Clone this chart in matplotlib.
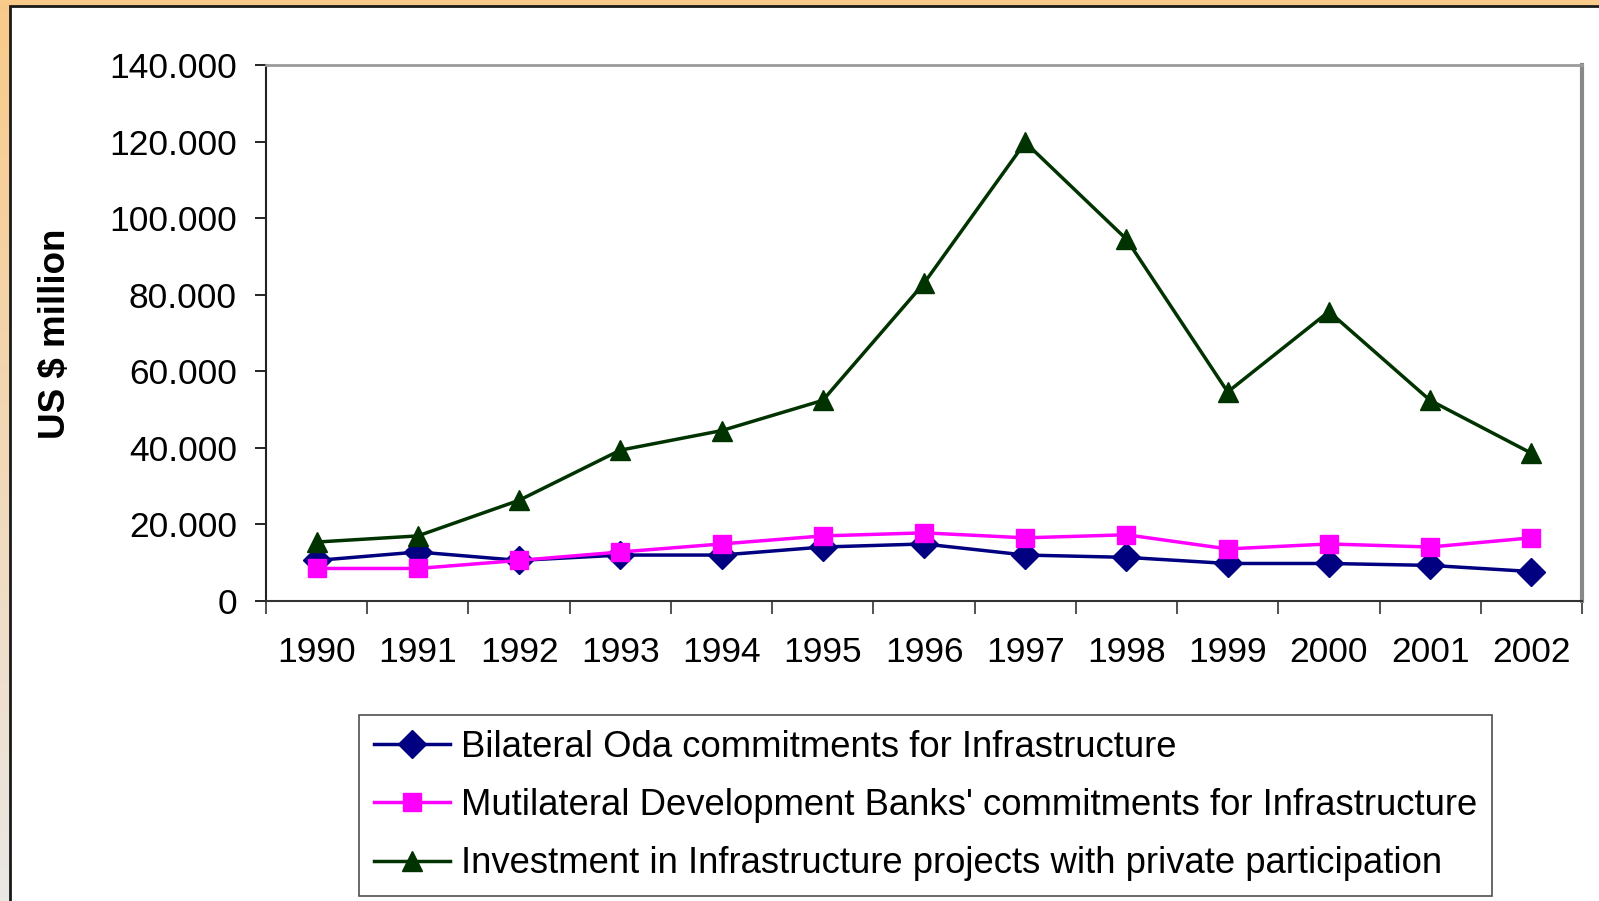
import numpy as np
import matplotlib
matplotlib.use("Agg")
import matplotlib.pyplot as plt
from matplotlib.patches import Rectangle
from matplotlib.ticker import FuncFormatter, FixedLocator

plt.rcParams['font.family'] = ['Liberation Sans', 'DejaVu Sans']

# data (US $ million)
years = ['1990', '1991', '1992', '1993', '1994', '1995', '1996',
         '1997', '1998', '1999', '2000', '2001', '2002']
bilateral_oda = [10600, 12800, 10600, 12000, 12000, 14100, 14900,
                 12000, 11400, 9800, 9800, 9300, 7700]
multilateral_banks = [8500, 8500, 10600, 12800, 14900, 17000, 17800,
                      16500, 17300, 13600, 14900, 14100, 16500]
private_investment = [15400, 17000, 26300, 39400, 44500, 52400, 83000,
                      119800, 94500, 54600, 75600, 52400, 38600]

labels = ["Bilateral Oda commitments for Infrastructure",
          "Mutilateral Development Banks' commitments for Infrastructure",
          "Investment in Infrastructure projects with private participation"]

W, H = 1599, 901
fig = plt.figure(figsize=(W / 100, H / 100), dpi=100)

# orange frame behind a white panel
bg = fig.add_axes([0, 0, 1, 1], zorder=-10)
grad = np.linspace(0, 1, 256).reshape(-1, 1)
top = np.array([249, 202, 138]) / 255
bottom = np.array([234, 231, 228]) / 255
img = top[None, None, :] * (1 - grad[:, :, None]) + bottom[None, None, :] * grad[:, :, None]
bg.imshow(img, aspect='auto', extent=[0, 1, 0, 1])
bg.set_xlim(0, 1)
bg.set_ylim(0, 1)
bg.axis('off')
bg.add_patch(Rectangle((10 / W, -0.05), 1.1, 1.05 - 6 / H, facecolor='white',
                       edgecolor='#1a1a1a', linewidth=2))

ax = fig.add_axes([266 / W, 1 - 601 / H, 1316 / W, (601 - 65) / H])
ax.set_facecolor('white')
x = np.arange(len(years))

ax.plot(x, bilateral_oda, color='#000080', linewidth=2.5, marker='D',
        markersize=14, label=labels[0], zorder=3)
ax.plot(x, multilateral_banks, color='#FF00FF', linewidth=2.5, marker='s',
        markersize=12.5, label=labels[1], zorder=3)
ax.plot(x, private_investment, color='#003300', linewidth=2.5, marker='^',
        markersize=15, label=labels[2], zorder=3)

ax.set_xlim(-0.5, len(years) - 0.5)
ax.set_ylim(0, 140000)
ax.set_yticks(np.arange(0, 140001, 20000))
ax.yaxis.set_major_formatter(FuncFormatter(lambda v, p: f"{v:,.0f}".replace(',', '.')))

ax.xaxis.set_major_locator(FixedLocator(np.arange(-0.5, len(years), 1.0)))
ax.xaxis.set_minor_locator(FixedLocator(x))
ax.set_xticklabels([])
ax.set_xticklabels(years, minor=True)
ax.tick_params(axis='x', which='major', direction='out', length=9, width=1.2, color='#333333')
ax.tick_params(axis='x', which='minor', length=0, pad=25, labelsize=25.5)
ax.tick_params(axis='y', direction='out', length=8, width=1.2, pad=13, labelsize=25.5)

ax.spines['left'].set_color('#222222')
ax.spines['left'].set_linewidth(1.5)
ax.spines['bottom'].set_color('#333333')
ax.spines['bottom'].set_linewidth(1.5)
ax.spines['top'].set_color('#9a9a9a')
ax.spines['top'].set_linewidth(2)
ax.spines['right'].set_color('#888888')
ax.spines['right'].set_linewidth(3)

fig.text(56 / W, 1 - 334 / H, 'US $ million', rotation=90, ha='center', va='center',
         fontsize=26.5, fontweight='bold')

leg = fig.legend(loc='upper left', bbox_to_anchor=(359 / W, 1 - 715 / H),
                 fontsize=26.3, frameon=True, fancybox=False, handlelength=2.1,
                 handletextpad=0.3, labelspacing=0.64, borderpad=0.4,
                 borderaxespad=0, edgecolor='#222222')
leg.get_frame().set_linewidth(1.2)

fig.savefig('out.png', dpi=100)
